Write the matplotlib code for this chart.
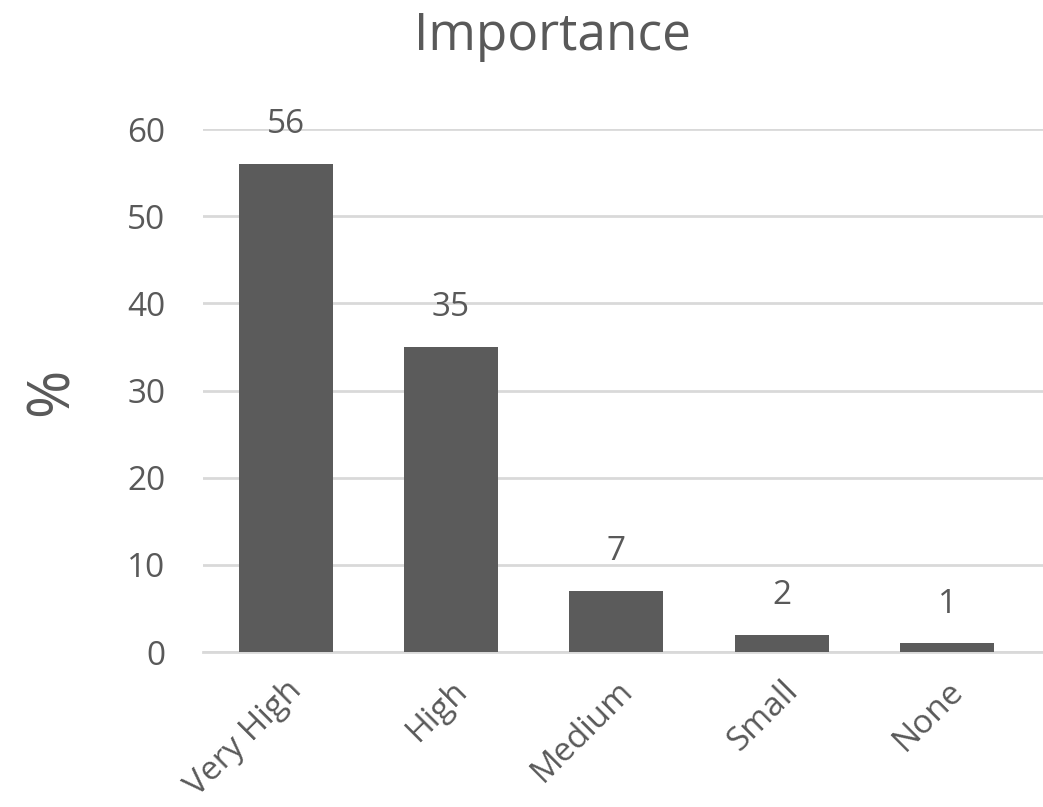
import matplotlib
matplotlib.use("Agg")
import matplotlib.pyplot as plt

categories = ["Very High", "High", "Medium", "Small", "None"]
values = [56, 35, 7, 2, 1]
yticks = [0, 10, 20, 30, 40, 50, 60]

plt.rcParams['font.family'] = ['Open Sans', 'DejaVu Sans']
txt = "#595959"

fig = plt.figure(figsize=(10.43, 8.07), dpi=100)
ax = fig.add_axes([0.1946, 0.192, 0.8054, 0.648])

x = range(len(categories))
bars = ax.bar(x, values, width=0.57, color="#5b5b5b", zorder=3)
for xi, v in zip(x, values):
    ax.text(xi, v + 2.6, str(v), ha="center", va="bottom", fontsize=24, color=txt)

ax.set_xlim(-0.5, 4.58)
ax.set_ylim(0, 60)
ax.set_yticks(yticks)
ax.yaxis.grid(True, color="#d9d9d9", linewidth=2, zorder=0)
ax.set_axisbelow(True)
for s in ["top", "right", "left"]:
    ax.spines[s].set_visible(False)
ax.spines["bottom"].set_color("#d9d9d9")
ax.spines["bottom"].set_linewidth(2)
ax.tick_params(axis="both", length=0, labelsize=24, colors=txt)
ax.tick_params(axis="y", pad=27)
ax.set_xticks(list(x))
ax.set_xticklabels(categories, rotation=45, ha="right", rotation_mode="anchor")
ax.tick_params(axis="x", pad=16)

fig.text(0.05, 0.515, "%", rotation=90, ha="center", va="center", fontsize=42, color=txt)
fig.text(0.53, 0.955, "Importance", ha="center", va="center", fontsize=37, color=txt)

fig.savefig("out.png", dpi=100)
